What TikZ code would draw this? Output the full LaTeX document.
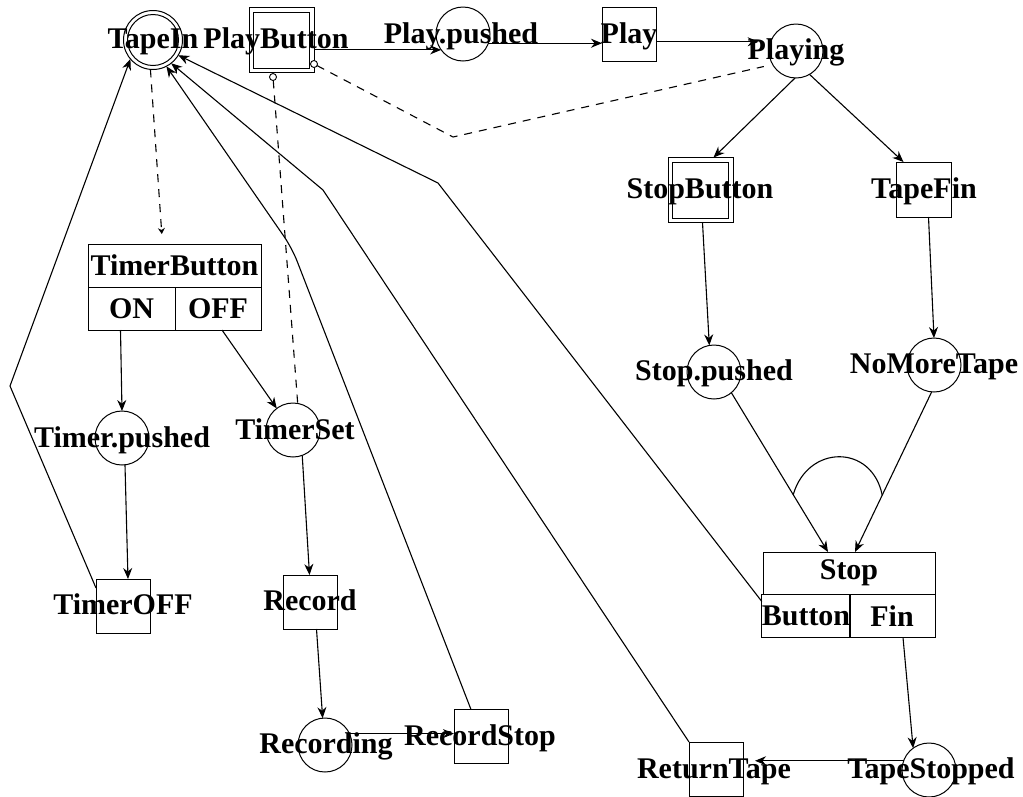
\documentclass[tikz,border=0pt]{standalone}
\usepackage{fontspec}
\setmainfont{Liberation Serif}
\usetikzlibrary{arrows.meta,calc}
\newcommand\lbfont{\fontsize{30}{32}\selectfont\bfseries}
\begin{document}
\begin{tikzpicture}[x=1pt,y=-1pt,
  every node/.style={inner sep=0pt, outer sep=0pt},
  lw/.style={line width=1.1pt},
  place/.style={circle, draw, line width=1pt, minimum size=54pt},
  dplace/.style={circle, draw, line width=1pt, minimum size=59pt},
  trans/.style={rectangle, draw, line width=1pt, minimum size=54pt},
  dtrans/.style={rectangle, draw, line width=1pt, minimum size=65pt},
  inner/.style={line width=1pt},
  cell/.style={rectangle, draw, line width=1pt, minimum height=43pt, font=\lbfont},
  lbl/.style={font=\lbfont, anchor=base},
  arc/.style={line width=1.1pt, -{Stealth[length=11pt,width=9pt]}},
  darc/.style={line width=1.1pt, dash pattern=on 8pt off 7pt},
  smallo/.style={circle, draw, line width=0.9pt, minimum size=7pt, fill=white}
]
\fill[white] (0,0) rectangle (1023,796);
\useasboundingbox (0,0) rectangle (1023,796);

% places
\node[dplace] (ti) at (153,40) {};
\draw[inner] (ti.center) circle[radius=25.5pt];
\node[place] (pp) at (463,34) {};
\node[place] (playing) at (796,51) {};
\node[place] (spd) at (714,372) {};
\node[place] (nmt) at (934,365) {};
\node[place] (tp) at (122,438) {};
\node[place] (tset) at (293,430) {};
\node[place] (rcg) at (325,745) {};
\node[place] (ts) at (929,770) {};

% transitions
\node[dtrans] (pb) at (281.5,40) {};
\draw[inner] ($(pb.south west)+(4.5,-4.5)$) rectangle ($(pb.north east)+(-4.5,4.5)$);
\node[dtrans] (sb) at (700.5,190) {};
\draw[inner] ($(sb.south west)+(4.5,-4.5)$) rectangle ($(sb.north east)+(-4.5,4.5)$);
\node[trans] (play) at (629,34) {};
\node[trans, minimum size=55pt] (tf) at (923.5,189.5) {};
\node[trans] (toff) at (123,606) {};
\node[trans] (rec) at (310.5,602) {};
\node[trans] (rs) at (481,736.5) {};
\node[trans] (rt) at (716,769) {};

% TimerButton box
\node[cell, minimum width=173pt] (tbh) at (174.5,265.5) {TimerButton};
\node[cell, minimum width=87pt] (on) at (131.5,308.5) {ON};
\node[cell, minimum width=86pt] (off) at (218,308.5) {OFF};

% Stop box
\node[cell, minimum width=172pt, minimum height=42pt] (stop) at (849,573) {Stop};
\node[cell, minimum width=86pt] (btn) at (806,616) {Button};
\node[cell, minimum width=86pt] (fin) at (892,616) {Fin};

% small circles on PlayButton
\node[smallo] (pbo1) at (273,77) {};
\node[smallo] (pbo2) at (314,64) {};

% bend points
\coordinate (b1) at (10,386);
\coordinate (b2) at (438,183);
\coordinate (b3) at (323,190);
\coordinate (b4) at (292,248);
\coordinate (b5) at (453,137);

% labels
\node[lbl] (lti) at (153,48) {TapeIn};
\node[lbl] (lpb) at (276,48) {PlayButton};
\node[lbl] (lpp) at (461,43) {Play.pushed};
\node[lbl] (lplay) at (629,43) {Play};
\node[lbl] (lplaying) at (796,59) {Playing};
\node[lbl] (lsb) at (700,198) {StopButton};
\node[lbl] (ltf) at (924,198) {TapeFin};
\node[lbl] (lspd) at (714,380) {Stop.pushed};
\node[lbl] (lnmt) at (934,373) {NoMoreTape};
\node[lbl] (ltp) at (122,447) {Timer.pushed};
\node[lbl] (ltset) at (295,439) {TimerSet};
\node[lbl] (ltoff) at (123,614) {TimerOFF};
\node[lbl] (lrec) at (310,610) {Record};
\node[lbl] (lrcg) at (326,753) {Recording};
\node[lbl] (lrs) at (480,745) {RecordStop};
\node[lbl] (lrt) at (714,778) {ReturnTape};
\node[lbl] (lts) at (931,778) {TapeStopped};

% arcs
\draw[arc] (pb.east |- pp.-144) -- (pp.-144);
\draw[arc] (pp.-20) -- (play.west |- pp.-20);
\draw[arc, shorten >=12pt] (play.east |- playing.160) -- (playing.160);
\draw[arc] (playing.-92) -- ([xshift=13pt]sb.north);
\draw[arc] (playing.-60) -- ([xshift=-20pt]tf.north);
\draw[arc] ([xshift=2pt]sb.south) -- (spd.100);
\draw[arc] ([xshift=5pt]tf.south) -- (nmt.north);
\draw[arc] (spd.-50) -- coordinate[pos=0.64] (loopA) ([xshift=-21pt]stop.north);
\draw[arc] (nmt.-95) -- coordinate[pos=0.645] (loopB) ([xshift=6pt]stop.north);
\draw[lw] (loopA) .. controls (808,444) and (872,444) .. (loopB);
\draw[arc] ([xshift=11pt]fin.south) -- (ts.126);
\draw[arc, shorten >=12pt] (ts.160) -- (rt.east |- ts.160);
\draw[arc] (rt.north west) -- (b3) -- (ti.-52);
\draw[arc] ([yshift=-7pt]btn.north west) -- (b2) -- (ti.-31);
\draw[arc, rounded corners=14pt] ([xshift=-10pt]rs.north) -- (b4) -- (ti.-63);
\draw[arc] ([yshift=-9pt]toff.north west) -- (b1) -- (ti.-140);
\draw[darc, -{Stealth[length=6pt,width=7pt]}, shorten >=10pt] (ti.-95) -- ([xshift=-12pt]tbh.north);
\draw[darc] (pbo1) -- (tset.80);
\draw[darc, shorten >=9pt] (pbo2) -- (b5) -- (playing.-150);
\draw[arc] ([xshift=-11pt]on.south) -- (tp.north);
\draw[arc] ([xshift=4pt]off.south) -- (tset.127);
\draw[arc] ([xshift=3pt]tp.south) -- ([xshift=5pt]toff.north);
\draw[arc] (tset.-70) -- ([xshift=-1pt]rec.north);
\draw[arc] ([xshift=6pt]rec.south) -- (rcg.95);
\draw[arc] (rcg.25) -- (rs.west |- rcg.25);
\end{tikzpicture}
\end{document}
